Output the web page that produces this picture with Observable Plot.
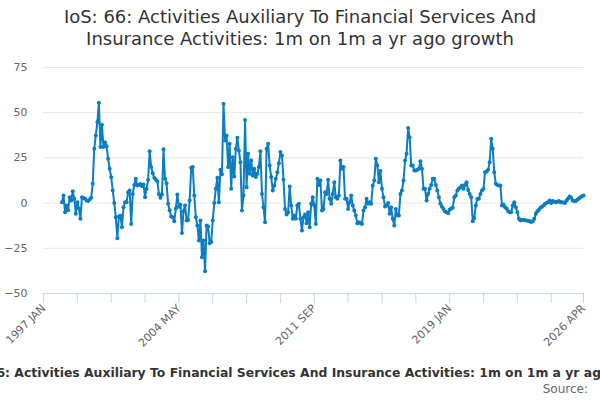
<!DOCTYPE html>
<html>
<head>
<meta charset="utf-8">
<script src="https://cdn.jsdelivr.net/npm/d3@7"></script>
<script src="https://cdn.jsdelivr.net/npm/@observablehq/plot@0.6"></script>
<style>
  html, body { margin: 0; padding: 0; background: #fff; }
  body { width: 600px; height: 400px; overflow: hidden; font-family: "DejaVu Sans", sans-serif; }
  #title { box-sizing: border-box; height: 56px; padding-top: 6px; text-align: center; font-size: 18px; line-height: 22px; color: #333; }
  #chart svg { display: block; }
  #cap { box-sizing: border-box; width: 600px; padding-top: 9px; }
  #capline { display: flex; justify-content: center; width: 600px; overflow: hidden; font-size: 12.4px; font-weight: bold; color: #333; line-height: 16px; }
  #capline span { white-space: nowrap; flex: none; transform: translateX(10px); }
  #source { text-align: right; padding-right: 12px; font-size: 12px; color: #666; line-height: 16px; }
</style>
</head>
<body>
<div id="title">IoS: 66: Activities Auxiliary To Financial Services And<br>Insurance Activities: 1m on 1m a yr ago growth</div>
<div id="chart"></div>
<div id="cap">
  <div id="capline"><span>IoS: 66: Activities Auxiliary To Financial Services And Insurance Activities: 1m on 1m a yr ago growth</span></div>
  <div id="source">Source:</div>
</div>
<script>
// Monthly values (1m on 1m a yr ago growth, %), one array per year, starting 1998 JAN
const v1998 = [0.5, 4.2, -5, -1.3, -4, 3.3, 1.4, 6.6, 2.4, -5.9, 0.5, -3];
const v1999 = [-8.7, 3.3, 2.8, 2.4, 1.5, 1.1, 2, 2.9, 10.7, 30, 37.4, 44.8];
const v2000 = [55.5, 31, 43.3, 31, 33.7, 31.5, 24.5, 19, 14.3, 7, 0, -7.8];
const v2001 = [-19.4, -7.4, -7, -13.3, -2.3, 0.5, 0.5, 6, 7, -11.5, 5, 10];
const v2002 = [13.4, 9.7, 10, 10.5, 9.5, 10.3, 3.3, 8, 12.9, 28.7, 19.9, 16.5];
const v2003 = [14, 13, 12.1, 5.1, 2.9, 4.8, 29.8, 13.4, 11, -0.4, -4, -7.4];
const v2004 = [-7.8, -10, -3, 4.8, -2, -0.9, -16.6, -4.5, -1.3, -9.6, -9.3, 1.4];
const v2005 = [19.5, 20, 4.2, -7.8, -12.4, -20.7, -9.6, -29.9, -20.7, -37.7, -12.4, -13];
const v2006 = [-22.2, -21.5, -9.6, 0, 7.9, 14, 0.5, 18.4, 16, 54.9, 34.6, 37.4];
const v2007 = [19.9, 32.8, 7.9, 25.4, 14.7, 30, 36.1, 29.1, 22.6, -4.1, 4.2, 46];
const v2008 = [8.8, 27.3, 16.2, 23.6, 15.3, 19, 14.4, 16.2, 20, 28.7, 5.1, -2.3];
const v2009 = [-10.6, 30, 32.8, 20.8, 14.4, 7, 9.7, 13.4, 17.1, 22, 28.2, 26.3];
const v2010 = [12.9, -3.2, -6.3, -5, 9.2, -1.3, -8.7, -6.9, -8.7, -1.3, -0.4, -8.7];
const v2011 = [-15.2, -7.8, -6.3, -11.1, -5, -13.3, -0.4, 3.3, -1.3, -11.5, 13.4, 10];
const v2012 = [12.5, -4.1, -3.2, 6, 5.1, 12.9, 2.4, -0.4, 5, 11.6, 3.3, 2.4];
const v2013 = [4.2, 23.6, 19, 19.9, 2.4, 2.4, -3.2, 0.5, 4.2, -1.3, -4.1, -6.9];
const v2014 = [-11.1, -10.6, -11, -11.5, -4.1, -2.3, 2.4, -0.4, 0.5, -0.4, 9.7, 12.5];
const v2015 = [24.5, 20.8, 11.6, 17.7, 7.9, 3.3, -1.9, -1.3, 0, -5.9, -2.3, -8.7];
const v2016 = [-12.4, -3.2, -6.9, -6.9, 5.1, 7, 12.5, 23.6, 27.3, 41.6, 36.4, 20.8];
const v2017 = [20.8, 18, 18, 18.5, 19, 23.2, 19, 7.9, 7.9, 1.4, 5.1, 7.9];
const v2018 = [10, 13.4, 13.4, 10, 7, 3.3, -0.4, -2, -3.2, -4.6, -5, -5.6];
const v2019 = [-3.7, -3, -2.6, 3.3, 4.2, 7, 8, 8.8, 9.7, 7.9, 10, 11.6];
const v2020 = [7.3, 5.1, 3.3, -10, -8.2, -1.3, 2.4, 2.4, 5.1, 7, 7.9, 17.1];
const v2021 = [17.5, 18.4, 22.6, 35.6, 30, 17.1, 10.7, 10, 9.7, 9.7, -1.3, -0.8];
const v2022 = [-2.3, -3, -4.5, -5, -5, -1.3, 0.5, -2.3, -5, -8.7, -9.6, -9.3];
const v2023 = [-9.3, -9.5, -9.6, -9.8, -10, -10.5, -10, -8.7, -5.9, -4.5, -3.7, -2.6];
const v2024 = [-2, -1.3, -0.4, 0, 0.5, 1.4, 0, 1.1, 0.8, 0.5, 0.8, 1.1];
const v2025 = [0.5, 0.5, 0.3, 0, 1.4, 2.5, 3.7, 2.9, 1.4, 1.2, 1.1, 1.8];
const v2026 = [2.5, 3.3, 3.8, 4.2];

const firstCategoryYear = 1997;   // category axis starts at 1997 JAN
const firstDataYear = 1998;
const yearly = [v1998, v1999, v2000, v2001, v2002, v2003, v2004, v2005, v2006, v2007,
  v2008, v2009, v2010, v2011, v2012, v2013, v2014, v2015, v2016, v2017,
  v2018, v2019, v2020, v2021, v2022, v2023, v2024, v2025, v2026];

const yTicks = [-50, -25, 0, 25, 50, 75];
const xLabelPos = [0, 88, 176, 264, 351];
const xLabelText = ["1997 JAN", "2004 MAY", "2011 SEP", "2019 JAN", "2026 APR"];
const xTickPos = [0, 22, 44, 66, 88, 110, 132, 154, 176, 198, 220, 242, 264, 286, 308, 330, 351];

const data = [];
yearly.forEach((arr, i) => arr.forEach((v, j) => {
  data.push({ m: (firstDataYear - firstCategoryYear + i) * 12 + j, v });
}));

const lineColor = "#0b7dc2";

const chart = Plot.plot({
  width: 600,
  height: 300,
  marginTop: 11,
  marginBottom: 63,
  marginLeft: 43,
  marginRight: 17,
  style: { fontFamily: "DejaVu Sans, sans-serif", fontSize: "11px", background: "transparent", overflow: "visible" },
  x: { domain: [0, 351], axis: null, label: null },
  y: { domain: [-50, 75], axis: null, label: null },
  marks: [
    Plot.gridY(yTicks, { stroke: "#e6e6e6", strokeOpacity: 1 }),
    Plot.ruleY([-50], { stroke: "#ccd6eb" }),
    Plot.axisY(yTicks, { tickSize: 0, tickPadding: 16, fill: "#666", fontSize: 11, label: null }),
    Plot.axisX(xTickPos, {
      tickSize: 10, tickPadding: 3, stroke: "#ccd6eb", fill: "#666", fontSize: 11,
      tickRotate: -45, label: null,
      tickFormat: d => { const k = xLabelPos.indexOf(d); return k >= 0 ? xLabelText[k] : ""; }
    }),
    Plot.line(data, { x: "m", y: "v", stroke: lineColor, strokeWidth: 2 }),
    Plot.dot(data, { x: "m", y: "v", r: 2, fill: lineColor, stroke: null })
  ]
});
document.getElementById("chart").appendChild(chart);
</script>
</body>
</html>
